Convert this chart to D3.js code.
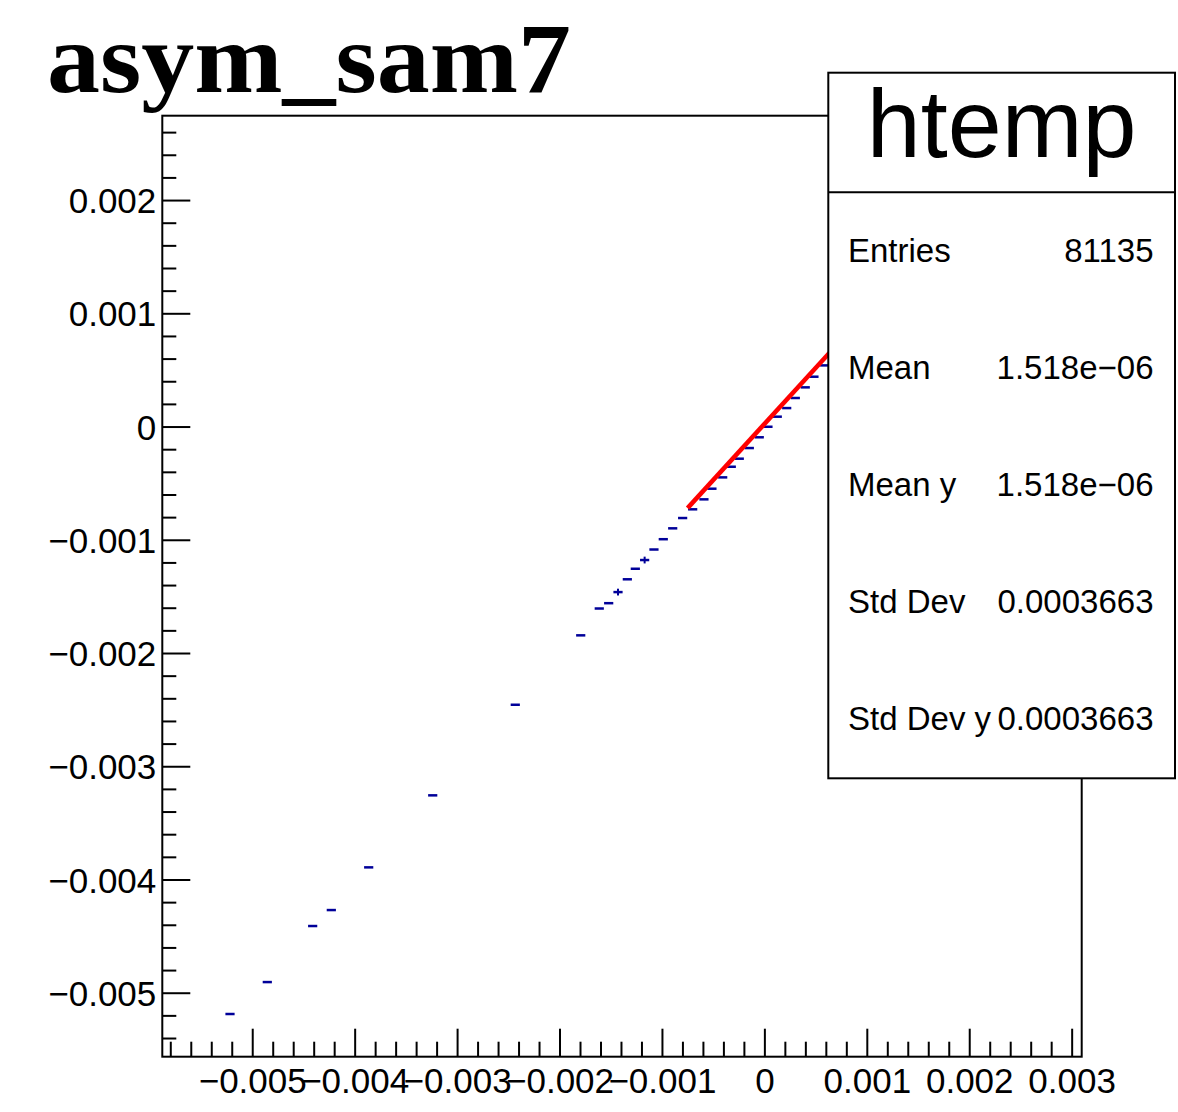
<!DOCTYPE html>
<html><head><meta charset="utf-8">
<script src="https://cdn.jsdelivr.net/npm/d3@7"></script>
<style>html,body{margin:0;padding:0;background:#fff;} svg{display:block}</style>
</head><body><svg id="c" width="1178" height="1112"></svg>
<script>
// ---------- data ----------
const title = "asym_sam7";
const histName = "htemp";
const xValues = [-0.005217,-0.004853,-0.004410,-0.004228,-0.003863,-0.003238,-0.002432,-0.001793,
  -0.001612,-0.001520,-0.001429,-0.001338,-0.001260,-0.001169,-0.001078,-0.000987,-0.000895,
  -0.000798,-0.000700,-0.000590,-0.000512,-0.000407,-0.000323,-0.000245,-0.000147,-0.000050,
  0.000035,0.000126,0.000218,0.000302,0.000399,0.000484,0.000589];
const yValues = [-0.005188,-0.004906,-0.004411,-0.004270,-0.003893,-0.003257,-0.002457,-0.001844,
  -0.001607,-0.001560,-0.001462,-0.001349,-0.001256,-0.001179,-0.001086,-0.000995,-0.000899,
  -0.000808,-0.000731,-0.000643,-0.000549,-0.000449,-0.000355,-0.000284,-0.000190,-0.000095,
  -0.000002,0.000087,0.000163,0.000252,0.000346,0.000440,0.000540];
const yErrors = [0,0,0,0,0,0,0,0,0,0,0.00003,0,0,0.00003,0,0,0,0,0,0,0,0,0,0,0,0,0,0,0,0,0,0,0];
const xTickValues = [-0.005,-0.004,-0.003,-0.002,-0.001,0,0.001,0.002,0.003];
const xTickLabels = ["\u22120.005","\u22120.004","\u22120.003","\u22120.002","\u22120.001","0","0.001","0.002","0.003"];
const yTickValues = [-0.005,-0.004,-0.003,-0.002,-0.001,0,0.001,0.002];
const yTickLabels = ["\u22120.005","\u22120.004","\u22120.003","\u22120.002","\u22120.001","0","0.001","0.002"];
const statsLabels = ["Entries","Mean","Mean y","Std Dev","Std Dev y"];
const statsValues = ["81135","1.518e\u221206","1.518e\u221206","0.0003663","0.0003663"];
const fitRange = [-0.00075, 0.00075];
const fitParams = [0.000022, 0.99];
const binWidth = 0.0000898;
const xDomain = [-0.005878, 0.003098];
const yDomain = [-0.005565, 0.002745];
const minorStep = 0.0002;

// ---------- layout ----------
const svg = d3.select("#c");
const F = {l:162.3, r:1081.7, t:115.7, b:1056.7};
const x = d3.scaleLinear().domain(xDomain).range([F.l, F.r]);
const y = d3.scaleLinear().domain(yDomain).range([F.b, F.t]);
const sans = "'Liberation Sans', Arial, Helvetica, sans-serif";

function minorTicks(dom){
  const out=[];
  const i0=Math.ceil(dom[0]/minorStep-1e-9), i1=Math.floor(dom[1]/minorStep+1e-9);
  for(let i=i0;i<=i1;i++){ if(i%5!==0) out.push(i*minorStep); }
  return out;
}

// title
svg.append("text").attr("x",47).attr("y",92)
  .attr("font-family","'Liberation Serif', 'Times New Roman', serif")
  .attr("font-weight","bold").attr("font-size",100)
  .attr("textLength",524).attr("lengthAdjust","spacingAndGlyphs").text(title);

// x axis
const gx = svg.append("g").attr("transform",`translate(0,${F.b})`);
gx.call(d3.axisBottom(x).tickValues(xTickValues)
  .tickFormat((d,i)=>xTickLabels[i]).tickSizeInner(-28).tickSizeOuter(0).tickPadding(11));
gx.append("g").call(d3.axisBottom(x).tickValues(minorTicks(xDomain)).tickFormat("")
  .tickSizeInner(-15).tickSizeOuter(0));
// y axis
const gy = svg.append("g").attr("transform",`translate(${F.l},0)`);
gy.call(d3.axisLeft(y).tickValues(yTickValues)
  .tickFormat((d,i)=>yTickLabels[i]).tickSizeInner(-28).tickSizeOuter(0).tickPadding(6));
gy.append("g").call(d3.axisLeft(y).tickValues(minorTicks(yDomain)).tickFormat("")
  .tickSizeInner(-14).tickSizeOuter(0));

svg.selectAll(".domain").remove();
svg.selectAll(".tick line").attr("stroke","#000").attr("stroke-width",2);
svg.selectAll(".tick text").attr("font-family",sans).attr("font-size",35).attr("fill","#000");
gy.selectAll(".tick text").attr("dy","0.36em");

// frame
svg.append("rect").attr("x",F.l).attr("y",F.t).attr("width",F.r-F.l).attr("height",F.b-F.t)
  .attr("fill","none").attr("stroke","#000").attr("stroke-width",2);

// profile points
const pts = xValues.map((v,i)=>({x:v,y:yValues[i],e:yErrors[i]}));
const gp = svg.append("g").attr("stroke","#000099").attr("stroke-width",2.5);
gp.selectAll("line.h").data(pts).join("line").attr("class","h")
  .attr("x1",d=>x(d.x-binWidth/2)).attr("x2",d=>x(d.x+binWidth/2))
  .attr("y1",d=>y(d.y)).attr("y2",d=>y(d.y));
gp.selectAll("line.v").data(pts.filter(d=>d.e>0)).join("line").attr("class","v")
  .attr("stroke-width",2)
  .attr("x1",d=>x(d.x)).attr("x2",d=>x(d.x))
  .attr("y1",d=>y(d.y-d.e)).attr("y2",d=>y(d.y+d.e));

// fit line
const fit = v => fitParams[0] + fitParams[1]*v;
svg.append("path").datum(fitRange)
  .attr("d", d3.line().x(d=>x(d)).y(d=>y(fit(d))))
  .attr("fill","none").attr("stroke","#ff0000").attr("stroke-width",4.5);

// stats box
const B = {l:828.3, r:1175, t:72.7, b:778.3, div:192.3};
svg.append("rect").attr("x",B.l).attr("y",B.t).attr("width",B.r-B.l).attr("height",B.b-B.t)
  .attr("fill","#fff").attr("stroke","#000").attr("stroke-width",2);
svg.append("line").attr("x1",B.l).attr("x2",B.r).attr("y1",B.div).attr("y2",B.div)
  .attr("stroke","#000").attr("stroke-width",2);
svg.append("text").attr("x",(B.l+B.r)/2).attr("y",156.7).attr("text-anchor","middle")
  .attr("font-family",sans).attr("font-size",97).text(histName);
const rowStep = (729.5-262)/(statsLabels.length-1);
statsLabels.forEach((lab,i)=>{
  const by = 262 + i*rowStep;
  svg.append("text").attr("x",848).attr("y",by).attr("font-family",sans)
    .attr("font-size",33).text(lab);
  svg.append("text").attr("x",1153.5).attr("y",by).attr("text-anchor","end")
    .attr("font-family",sans).attr("font-size",33).text(statsValues[i]);
});
</script>
</body></html>
